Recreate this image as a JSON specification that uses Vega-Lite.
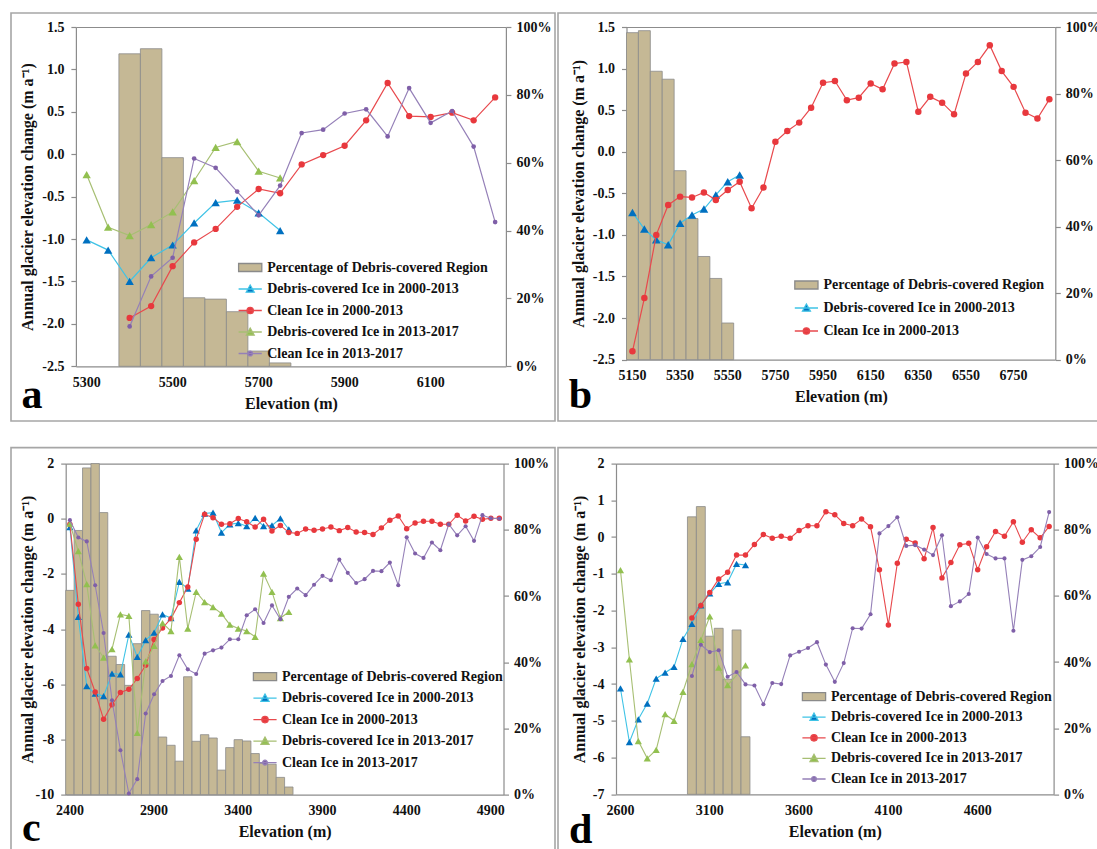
{
"$schema": "https://vega.github.io/schema/vega-lite/v6.json",
"padding": {"left": 10, "top": 12, "right": 0, "bottom": 0},
"background": "white",
"datasets": {
"A": [
{"e":5300,"d1":-1.01,"d2":-0.24},
{"e":5350,"d1":-1.13,"d2":-0.86},
{"e":5400,"d1":-1.5,"c1":-1.93,"d2":-0.96,"c2":-2.03,"p":0.921},
{"e":5450,"d1":-1.22,"c1":-1.79,"d2":-0.83,"c2":-1.44,"p":0.936},
{"e":5500,"d1":-1.07,"c1":-1.32,"d2":-0.68,"c2":-1.22,"p":0.615},
{"e":5550,"d1":-0.81,"c1":-1.04,"d2":-0.31,"c2":-0.05,"p":0.202},
{"e":5600,"d1":-0.57,"c1":-0.88,"d2":0.08,"c2":-0.16,"p":0.198},
{"e":5650,"d1":-0.54,"c1":-0.62,"d2":0.15,"c2":-0.44,"p":0.161},
{"e":5700,"d1":-0.69,"c1":-0.41,"d2":-0.2,"c2":-0.72,"p":0.045},
{"e":5750,"d1":-0.9,"c1":-0.46,"d2":-0.28,"c2":-0.37,"p":0.01},
{"e":5800,"c1":-0.12,"c2":0.25},
{"e":5850,"c1":-0.01,"c2":0.29},
{"e":5900,"c1":0.1,"c2":0.48},
{"e":5950,"c1":0.4,"c2":0.53},
{"e":6000,"c1":0.84,"c2":0.21},
{"e":6050,"c1":0.45,"c2":0.78},
{"e":6100,"c1":0.44,"c2":0.37},
{"e":6150,"c1":0.49,"c2":0.51},
{"e":6200,"c1":0.4,"c2":0.09},
{"e":6250,"c1":0.67,"c2":-0.8}
],
"B": [
{"e":5150,"d1":-0.73,"c1":-2.4,"p":0.983},
{"e":5200,"d1":-0.93,"c1":-1.76,"p":0.989},
{"e":5250,"d1":-1.06,"c1":-1.0,"p":0.867},
{"e":5300,"d1":-1.12,"c1":-0.64,"p":0.843},
{"e":5350,"d1":-0.86,"c1":-0.54,"p":0.568},
{"e":5400,"d1":-0.76,"c1":-0.55,"p":0.424},
{"e":5450,"d1":-0.69,"c1":-0.49,"p":0.31},
{"e":5500,"d1":-0.52,"c1":-0.58,"p":0.244},
{"e":5550,"d1":-0.36,"c1":-0.46,"p":0.11},
{"e":5600,"d1":-0.28,"c1":-0.36},
{"e":5650,"c1":-0.68},
{"e":5700,"c1":-0.43},
{"e":5750,"c1":0.12},
{"e":5800,"c1":0.25},
{"e":5850,"c1":0.35},
{"e":5900,"c1":0.53},
{"e":5950,"c1":0.83},
{"e":6000,"c1":0.85},
{"e":6050,"c1":0.62},
{"e":6100,"c1":0.65},
{"e":6150,"c1":0.82},
{"e":6200,"c1":0.75},
{"e":6250,"c1":1.06},
{"e":6300,"c1":1.08},
{"e":6350,"c1":0.48},
{"e":6400,"c1":0.66},
{"e":6450,"c1":0.59},
{"e":6500,"c1":0.45},
{"e":6550,"c1":0.94},
{"e":6600,"c1":1.08},
{"e":6650,"c1":1.28},
{"e":6700,"c1":0.97},
{"e":6750,"c1":0.78},
{"e":6800,"c1":0.47},
{"e":6850,"c1":0.4},
{"e":6900,"c1":0.63}
],
"C": [
{"e":2400,"d1":-0.3,"c1":-0.2,"d2":-0.18,"c2":-0.05,"p":0.617},
{"e":2450,"d1":-3.56,"c1":-3.1,"d2":-1.17,"c2":-0.68,"p":0.798},
{"e":2500,"d1":-6.07,"c1":-5.43,"d2":-2.37,"c2":-0.82,"p":0.987},
{"e":2550,"d1":-6.34,"c1":-6.28,"d2":-4.59,"c2":-2.41,"p":1.0},
{"e":2600,"d1":-6.43,"c1":-7.27,"d2":-5.03,"c2":-4.14,"p":0.852},
{"e":2650,"d1":-5.61,"c1":-6.74,"d2":-4.73,"c2":-6.58,"p":0.418},
{"e":2700,"d1":-5.64,"c1":-6.3,"d2":-3.47,"c2":-8.39,"p":0.393},
{"e":2750,"d1":-4.2,"c1":-6.18,"d2":-3.52,"c2":-9.96,"p":0.33},
{"e":2800,"d1":-5.01,"c1":-5.79,"d2":-7.76,"c2":-9.44,"p":0.456},
{"e":2850,"d1":-4.4,"c1":-5.31,"d2":-5.17,"c2":-7.06,"p":0.556},
{"e":2900,"d1":-4.13,"c1":-4.38,"d2":-4.61,"c2":-6.36,"p":0.545},
{"e":2950,"d1":-3.47,"c1":-3.96,"d2":-3.78,"c2":-5.88,"p":0.174},
{"e":3000,"d1":-3.6,"c1":-3.62,"d2":-4.07,"c2":-5.7,"p":0.149},
{"e":3050,"d1":-2.29,"c1":-3.04,"d2":-1.38,"c2":-4.95,"p":0.101},
{"e":3100,"d1":-2.53,"c1":-2.47,"d2":-3.98,"c2":-5.46,"p":0.356},
{"e":3150,"d1":-0.42,"c1":-0.74,"d2":-2.65,"c2":-5.63,"p":0.161},
{"e":3200,"d1":0.19,"c1":0.16,"d2":-3.02,"c2":-4.89,"p":0.181},
{"e":3250,"d1":0.22,"c1":0.04,"d2":-3.2,"c2":-4.77,"p":0.171},
{"e":3300,"d1":-0.5,"c1":-0.2,"d2":-3.44,"c2":-4.67,"p":0.074},
{"e":3350,"d1":-0.2,"c1":-0.18,"d2":-3.84,"c2":-4.37,"p":0.142},
{"e":3400,"d1":-0.16,"c1":0.01,"d2":-3.98,"c2":-4.37,"p":0.166},
{"e":3450,"d1":-0.27,"c1":-0.11,"d2":-4.07,"c2":-3.5,"p":0.162},
{"e":3500,"d1":0.03,"c1":-0.3,"d2":-4.28,"c2":-3.28,"p":0.124},
{"e":3550,"d1":-0.27,"c1":-0.02,"d2":-1.99,"c2":-3.78,"p":0.094},
{"e":3600,"d1":-0.24,"c1":-0.44,"d2":-2.65,"c2":-3.14,"p":0.092},
{"e":3650,"d1":0.01,"c1":-0.24,"d2":-3.6,"c2":-3.64,"p":0.052},
{"e":3700,"d1":-0.38,"c1":-0.5,"d2":-3.38,"c2":-2.83,"p":0.023},
{"e":3750,"c1":-0.53,"c2":-2.53},
{"e":3800,"c1":-0.37,"c2":-2.77},
{"e":3850,"c1":-0.42,"c2":-2.39},
{"e":3900,"c1":-0.37,"c2":-2.07},
{"e":3950,"c1":-0.3,"c2":-2.23},
{"e":4000,"c1":-0.43,"c2":-1.48},
{"e":4050,"c1":-0.32,"c2":-1.96},
{"e":4100,"c1":-0.48,"c2":-2.33},
{"e":4150,"c1":-0.5,"c2":-2.19},
{"e":4200,"c1":-0.57,"c2":-1.89},
{"e":4250,"c1":-0.33,"c2":-1.9},
{"e":4300,"c1":-0.05,"c2":-1.59},
{"e":4350,"c1":0.1,"c2":-2.41},
{"e":4400,"c1":-0.36,"c2":-0.67},
{"e":4450,"c1":-0.15,"c2":-1.26},
{"e":4500,"c1":-0.09,"c2":-1.42},
{"e":4550,"c1":-0.09,"c2":-0.86},
{"e":4600,"c1":-0.2,"c2":-1.14},
{"e":4650,"c1":-0.2,"c2":-0.2},
{"e":4700,"c1":0.13,"c2":-0.6},
{"e":4750,"c1":-0.08,"c2":-0.27},
{"e":4800,"c1":0.09,"c2":-0.8},
{"e":4850,"c1":-0.02,"c2":0.13},
{"e":4900,"c1":0.02,"c2":0.02},
{"e":4950,"c1":0.02,"c2":0.0}
],
"D": [
{"e":2600,"d1":-4.12,"d2":-0.9},
{"e":2650,"d1":-5.58,"d2":-3.33},
{"e":2700,"d1":-4.96,"d2":-5.55},
{"e":2750,"d1":-4.53,"d2":-6.02},
{"e":2800,"d1":-3.85,"d2":-5.79},
{"e":2850,"d1":-3.69,"d2":-4.82},
{"e":2900,"d1":-3.53,"d2":-5.0},
{"e":2950,"d1":-2.77,"d2":-4.21},
{"e":3000,"d1":-2.36,"c1":-2.2,"d2":-3.46,"c2":-3.78,"p":0.839},
{"e":3050,"d1":-1.86,"c1":-1.86,"d2":-2.8,"c2":-2.93,"p":0.87},
{"e":3100,"d1":-1.53,"c1":-1.51,"d2":-2.16,"c2":-3.13,"p":0.478},
{"e":3150,"d1":-1.27,"c1":-1.14,"d2":-3.55,"c2":-3.08,"p":0.502},
{"e":3200,"d1":-1.23,"c1":-0.96,"d2":-4.03,"c2":-3.8,"p":0.348},
{"e":3250,"d1":-0.73,"c1":-0.49,"c2":-3.67,"p":0.497},
{"e":3300,"d1":-0.76,"c1":-0.49,"d2":-3.49,"c2":-4.01,"p":0.174},
{"e":3350,"c1":-0.2,"c2":-4.04},
{"e":3400,"c1":0.07,"c2":-4.55},
{"e":3450,"c1":-0.03,"c2":-3.97},
{"e":3500,"c1":0.02,"c2":-4.0},
{"e":3550,"c1":-0.03,"c2":-3.22},
{"e":3600,"c1":0.18,"c2":-3.12},
{"e":3650,"c1":0.31,"c2":-3.02},
{"e":3700,"c1":0.31,"c2":-2.86},
{"e":3750,"c1":0.69,"c2":-3.47},
{"e":3800,"c1":0.61,"c2":-3.94},
{"e":3850,"c1":0.37,"c2":-3.43},
{"e":3900,"c1":0.31,"c2":-2.48},
{"e":3950,"c1":0.49,"c2":-2.49},
{"e":4000,"c1":0.28,"c2":-2.1},
{"e":4050,"c1":-0.89,"c2":0.1},
{"e":4100,"c1":-2.39,"c2":0.3},
{"e":4150,"c1":-0.71,"c2":0.54},
{"e":4200,"c1":-0.06,"c2":-0.24},
{"e":4250,"c1":-0.16,"c2":-0.22},
{"e":4300,"c1":-0.59,"c2":-0.34},
{"e":4350,"c1":0.26,"c2":-0.49},
{"e":4400,"c1":-1.11,"c2":0.05},
{"e":4450,"c1":-0.69,"c2":-1.88},
{"e":4500,"c1":-0.21,"c2":-1.75},
{"e":4550,"c1":-0.17,"c2":-1.55},
{"e":4600,"c1":-0.89,"c2":-0.01},
{"e":4650,"c1":-0.26,"c2":-0.46},
{"e":4700,"c1":0.15,"c2":-0.58},
{"e":4750,"c1":0.02,"c2":-0.58},
{"e":4800,"c1":0.42,"c2":-2.55},
{"e":4850,"c1":-0.14,"c2":-0.62},
{"e":4900,"c1":0.2,"c2":-0.52},
{"e":4950,"c1":-0.02,"c2":-0.27},
{"e":5000,"c1":0.29,"c2":0.68}
]
},
"columns": 2,
"spacing": {"row": 26.6, "column": 3},
"bounds": "flush",
"resolve": {"scale": {"fill": "independent", "stroke": "independent", "shape": "independent"}, "legend": {"fill": "independent", "stroke": "independent", "shape": "independent"}},
"concat": [
{
"width": 544, "height": 408,
"data": {"name": "A"},
"title": {"text": "a", "orient": "bottom", "anchor": "start", "frame": "group", "offset": -13.5, "dx": 10.5, "baseline": "alphabetic", "fontSize": 42, "font": "Liberation Serif", "fontWeight": "bold", "color": "#000"},
"resolve": {"scale": {"y": "independent"}, "axis": {"x": "independent"}},
"layer": [
{"transform": [{"filter": "isValid(datum.p)"}],
 "mark": {"type": "bar", "fill": "#c5b895", "stroke": "#8a8a8a", "strokeWidth": 0.8},
 "encoding": {
  "x": {"field": "e", "type": "ordinal", "scale": {"range": [64.9, 494.9], "paddingInner": 0, "paddingOuter": 0}, "axis": {"orient": "bottom", "offset": -54.7, "values": [5300,5500,5700,5900,6100], "labelAngle": 0, "ticks": false, "tickSize": 0, "labelPadding": 9, "title": "Elevation (m)", "titlePadding": 6}},
  "y": {"field": "p", "type": "quantitative", "scale": {"domain": [0,1], "range": [353.3,14], "nice": false}, "axis": {"orient": "right", "offset": -49.1, "values": [0,0.2,0.4,0.6,0.8,1], "format": ".0%", "tickSize": 5, "labelPadding": 5, "title": null}}
 }},
{"transform": [{"filter": "isValid(datum.d1)"}],
 "mark": {"type": "line", "stroke": "#3fc3e6", "strokeWidth": 1.2},
 "encoding": {
  "x": {"field": "e", "type": "ordinal", "axis": {"orient": "top", "offset": -14, "labels": false, "ticks": false, "title": null}},
  "y": {"field": "d1", "type": "quantitative", "scale": {"domain": [-2.5,1.5], "range": [353.3,14], "nice": false, "zero": false}, "axis": {"orient": "left", "offset": -64.9, "values": [-2.5,-2,-1.5,-1,-0.5,0,0.5,1,1.5], "labelExpr": "replace(format(datum.value,'.1f'),'\u2212','-')", "tickSize": 5, "labelPadding": 7, "title": "Annual glacier elevation change (m a\u207b\u00b9)", "titlePadding": 6}}
 }},
{"transform": [{"filter": "isValid(datum.d1)"}],
 "mark": {"type": "point", "shape": "triangle-up", "filled": true, "opacity": 1, "size": 70, "fill": "#0070c0", "strokeWidth": 0},
 "encoding": {"x": {"field": "e", "type": "ordinal", "axis": null}, "y": {"field": "d1", "type": "quantitative", "scale": {"domain": [-2.5,1.5], "range": [353.3,14], "nice": false, "zero": false}, "axis": null}}},
{"transform": [{"filter": "isValid(datum.c1)"}],
 "mark": {"type": "line", "stroke": "#e8494d", "strokeWidth": 1.2},
 "encoding": {"x": {"field": "e", "type": "ordinal", "axis": null}, "y": {"field": "c1", "type": "quantitative", "scale": {"domain": [-2.5,1.5], "range": [353.3,14], "nice": false, "zero": false}, "axis": null}}},
{"transform": [{"filter": "isValid(datum.c1)"}],
 "mark": {"type": "point", "shape": "circle", "filled": true, "opacity": 1, "size": 40, "fill": "#e8383d", "strokeWidth": 0},
 "encoding": {"x": {"field": "e", "type": "ordinal", "axis": null}, "y": {"field": "c1", "type": "quantitative", "scale": {"domain": [-2.5,1.5], "range": [353.3,14], "nice": false, "zero": false}, "axis": null}}},
{"transform": [{"filter": "isValid(datum.d2)"}],
 "mark": {"type": "line", "stroke": "#a7bf73", "strokeWidth": 1.2},
 "encoding": {"x": {"field": "e", "type": "ordinal", "axis": null}, "y": {"field": "d2", "type": "quantitative", "scale": {"domain": [-2.5,1.5], "range": [353.3,14], "nice": false, "zero": false}, "axis": null}}},
{"transform": [{"filter": "isValid(datum.d2)"}],
 "mark": {"type": "point", "shape": "triangle-up", "filled": true, "opacity": 1, "size": 70, "fill": "#92c050", "strokeWidth": 0},
 "encoding": {"x": {"field": "e", "type": "ordinal", "axis": null}, "y": {"field": "d2", "type": "quantitative", "scale": {"domain": [-2.5,1.5], "range": [353.3,14], "nice": false, "zero": false}, "axis": null}}},
{"transform": [{"filter": "isValid(datum.c2)"}],
 "mark": {"type": "line", "stroke": "#9580b8", "strokeWidth": 1.2},
 "encoding": {"x": {"field": "e", "type": "ordinal", "axis": null}, "y": {"field": "c2", "type": "quantitative", "scale": {"domain": [-2.5,1.5], "range": [353.3,14], "nice": false, "zero": false}, "axis": null}}},
{"transform": [{"filter": "isValid(datum.c2)"}],
 "mark": {"type": "point", "shape": "circle", "filled": true, "opacity": 1, "size": 22, "fill": "#7f5fa8", "strokeWidth": 0},
 "encoding": {"x": {"field": "e", "type": "ordinal", "axis": null}, "y": {"field": "c2", "type": "quantitative", "scale": {"domain": [-2.5,1.5], "range": [353.3,14], "nice": false, "zero": false}, "axis": null}}},
{"data": {"values": []},
 "mark": {"type": "point", "filled": true, "opacity": 1},
 "encoding": {
  "fill": {"field": "s", "type": "nominal", "scale": {"domain": ["bar","d1","c1","d2","c2"], "range": ["#c5b895","#0070c0","#e8383d","#92c050","#7f5fa8"]}, "legend": {"orient": "none", "legendX": 230.2, "legendY": 245.5, "title": null, "rowPadding": 5.5, "labelFontWeight": "bold", "symbolFillColor": "#000", "symbolStrokeColor": "#000", "labelExpr": "datum.label=='bar'?'Percentage of Debris-covered Region':datum.label=='d1'?'Debris-covered Ice in 2000-2013':datum.label=='c1'?'Clean Ice in 2000-2013':datum.label=='d2'?'Debris-covered Ice in 2013-2017':'Clean Ice in 2013-2017'"}},
  "stroke": {"field": "s", "type": "nominal", "scale": {"domain": ["bar","d1","c1","d2","c2"], "range": ["#8a8a8a","#3fc3e6","#e8494d","#a7bf73","#9580b8"]}, "legend": {"orient": "none", "legendX": 230.2, "legendY": 245.5, "title": null, "rowPadding": 5.5, "labelFontWeight": "bold", "symbolFillColor": "#000", "symbolStrokeColor": "#000", "labelExpr": "datum.label=='bar'?'Percentage of Debris-covered Region':datum.label=='d1'?'Debris-covered Ice in 2000-2013':datum.label=='c1'?'Clean Ice in 2000-2013':datum.label=='d2'?'Debris-covered Ice in 2013-2017':'Clean Ice in 2013-2017'"}},
  "shape": {"field": "s", "type": "nominal", "scale": {"domain": ["bar","d1","c1","d2","c2"], "range": ["M-1.45,-0.5H1.45V0.5H-1.45Z","M-1.45,0H1.45M-0.5,0.4L0,-0.5L0.5,0.4Z","M-1.45,0H1.45M-0.4,0A0.4,0.4,0,1,0,0.4,0A0.4,0.4,0,1,0,-0.4,0Z","M-1.45,0H1.45M-0.5,0.4L0,-0.5L0.5,0.4Z","M-1.45,0H1.45M-0.3,0A0.3,0.3,0,1,0,0.3,0A0.3,0.3,0,1,0,-0.3,0Z"]}, "legend": {"orient": "none", "legendX": 230.2, "legendY": 245.5, "title": null, "rowPadding": 5.5, "labelFontWeight": "bold", "symbolFillColor": "#000", "symbolStrokeColor": "#000", "labelExpr": "datum.label=='bar'?'Percentage of Debris-covered Region':datum.label=='d1'?'Debris-covered Ice in 2000-2013':datum.label=='c1'?'Clean Ice in 2000-2013':datum.label=='d2'?'Debris-covered Ice in 2013-2017':'Clean Ice in 2013-2017'"}}
 }}
]
},
{
"width": 541, "height": 408,
"data": {"name": "B"},
"title": {"text": "b", "orient": "bottom", "anchor": "start", "frame": "group", "offset": -13.5, "dx": 10.7, "baseline": "alphabetic", "fontSize": 42, "font": "Liberation Serif", "fontWeight": "bold", "color": "#000"},
"resolve": {"scale": {"y": "independent"}, "axis": {"x": "independent"}},
"layer": [
{"transform": [{"filter": "isValid(datum.p)"}],
 "mark": {"type": "bar", "fill": "#c5b895", "stroke": "#8a8a8a", "strokeWidth": 0.8},
 "encoding": {
  "x": {"field": "e", "type": "ordinal", "scale": {"range": [68.5, 497.3], "paddingInner": 0, "paddingOuter": 0}, "axis": {"orient": "bottom", "offset": -61.4, "values": [5150,5350,5550,5750,5950,6150,6350,6550,6750], "labelAngle": 0, "ticks": false, "tickSize": 0, "labelPadding": 9, "title": "Elevation (m)", "titlePadding": 6}},
  "y": {"field": "p", "type": "quantitative", "scale": {"domain": [0,1], "range": [346.6,14], "nice": false}, "axis": {"orient": "right", "offset": -43.7, "values": [0,0.2,0.4,0.6,0.8,1], "format": ".0%", "tickSize": 5, "labelPadding": 5, "title": null}}
 }},
{"transform": [{"filter": "isValid(datum.d1)"}],
 "mark": {"type": "line", "stroke": "#3fc3e6", "strokeWidth": 1.2},
 "encoding": {
  "x": {"field": "e", "type": "ordinal", "axis": {"orient": "top", "offset": -14, "labels": false, "ticks": false, "title": null}},
  "y": {"field": "d1", "type": "quantitative", "scale": {"domain": [-2.5,1.5], "range": [346.6,14], "nice": false, "zero": false}, "axis": {"orient": "left", "offset": -68.5, "values": [-2.5,-2,-1.5,-1,-0.5,0,0.5,1,1.5], "labelExpr": "replace(format(datum.value,'.1f'),'\u2212','-')", "tickSize": 5, "labelPadding": 7, "title": "Annual glacier elevation change (m a\u207b\u00b9)", "titlePadding": 6}}
 }},
{"transform": [{"filter": "isValid(datum.d1)"}],
 "mark": {"type": "point", "shape": "triangle-up", "filled": true, "opacity": 1, "size": 75, "fill": "#0070c0", "strokeWidth": 0},
 "encoding": {"x": {"field": "e", "type": "ordinal", "axis": null}, "y": {"field": "d1", "type": "quantitative", "scale": {"domain": [-2.5,1.5], "range": [346.6,14], "nice": false, "zero": false}, "axis": null}}},
{"transform": [{"filter": "isValid(datum.c1)"}],
 "mark": {"type": "line", "stroke": "#e8494d", "strokeWidth": 1.2},
 "encoding": {"x": {"field": "e", "type": "ordinal", "axis": null}, "y": {"field": "c1", "type": "quantitative", "scale": {"domain": [-2.5,1.5], "range": [346.6,14], "nice": false, "zero": false}, "axis": null}}},
{"transform": [{"filter": "isValid(datum.c1)"}],
 "mark": {"type": "point", "shape": "circle", "filled": true, "opacity": 1, "size": 42, "fill": "#e8383d", "strokeWidth": 0},
 "encoding": {"x": {"field": "e", "type": "ordinal", "axis": null}, "y": {"field": "c1", "type": "quantitative", "scale": {"domain": [-2.5,1.5], "range": [346.6,14], "nice": false, "zero": false}, "axis": null}}},
{"data": {"values": []},
 "mark": {"type": "point", "filled": true, "opacity": 1},
 "encoding": {
  "fill": {"field": "s", "type": "nominal", "scale": {"domain": ["bar","d1","c1"], "range": ["#c5b895","#0070c0","#e8383d"]}, "legend": {"orient": "none", "legendX": 239.4, "legendY": 263, "title": null, "rowPadding": 7, "labelFontWeight": "bold", "symbolFillColor": "#000", "symbolStrokeColor": "#000", "labelExpr": "datum.label=='bar'?'Percentage of Debris-covered Region':datum.label=='d1'?'Debris-covered Ice in 2000-2013':'Clean Ice in 2000-2013'"}},
  "stroke": {"field": "s", "type": "nominal", "scale": {"domain": ["bar","d1","c1"], "range": ["#8a8a8a","#3fc3e6","#e8494d"]}, "legend": {"orient": "none", "legendX": 239.4, "legendY": 263, "title": null, "rowPadding": 7, "labelFontWeight": "bold", "symbolFillColor": "#000", "symbolStrokeColor": "#000", "labelExpr": "datum.label=='bar'?'Percentage of Debris-covered Region':datum.label=='d1'?'Debris-covered Ice in 2000-2013':'Clean Ice in 2000-2013'"}},
  "shape": {"field": "s", "type": "nominal", "scale": {"domain": ["bar","d1","c1"], "range": ["M-1.45,-0.5H1.45V0.5H-1.45Z","M-1.45,0H1.45M-0.5,0.4L0,-0.5L0.5,0.4Z","M-1.45,0H1.45M-0.4,0A0.4,0.4,0,1,0,0.4,0A0.4,0.4,0,1,0,-0.4,0Z"]}, "legend": {"orient": "none", "legendX": 239.4, "legendY": 263, "title": null, "rowPadding": 7, "labelFontWeight": "bold", "symbolFillColor": "#000", "symbolStrokeColor": "#000", "labelExpr": "datum.label=='bar'?'Percentage of Debris-covered Region':datum.label=='d1'?'Debris-covered Ice in 2000-2013':'Clean Ice in 2000-2013'"}}
 }}
]
},
{
"width": 544, "height": 404,
"data": {"name": "C"},
"title": {"text": "c", "orient": "bottom", "anchor": "start", "frame": "group", "offset": -10.4, "dx": 11, "baseline": "alphabetic", "fontSize": 42, "font": "Liberation Serif", "fontWeight": "bold", "color": "#000"},
"resolve": {"scale": {"y": "independent"}, "axis": {"x": "independent"}},
"layer": [
{"transform": [{"filter": "isValid(datum.p)"}],
 "mark": {"type": "bar", "fill": "#c5b895", "stroke": "#8a8a8a", "strokeWidth": 0.8},
 "encoding": {
  "x": {"field": "e", "type": "ordinal", "scale": {"range": [54.7, 492.5], "paddingInner": 0, "paddingOuter": 0}, "axis": {"orient": "bottom", "offset": -57, "values": [2400,2900,3400,3900,4400,4900], "labelAngle": 0, "ticks": false, "tickSize": 0, "labelPadding": 9, "title": "Elevation (m)", "titlePadding": 6}},
  "y": {"field": "p", "type": "quantitative", "scale": {"domain": [0,1], "range": [347,16], "nice": false}, "axis": {"orient": "right", "offset": -51.5, "values": [0,0.2,0.4,0.6,0.8,1], "format": ".0%", "tickSize": 5, "labelPadding": 5, "title": null}}
 }},
{"transform": [{"filter": "isValid(datum.d1)"}],
 "mark": {"type": "line", "stroke": "#3fc3e6", "strokeWidth": 1.1},
 "encoding": {
  "x": {"field": "e", "type": "ordinal", "axis": {"orient": "top", "offset": -16, "labels": false, "ticks": false, "title": null}},
  "y": {"field": "d1", "type": "quantitative", "scale": {"domain": [-10,2], "range": [347,16], "nice": false, "zero": false}, "axis": {"orient": "left", "offset": -54.7, "values": [-10,-8,-6,-4,-2,0,2], "labelExpr": "replace(format(datum.value,'d'),'\u2212','-')", "tickSize": 5, "labelPadding": 7, "title": "Annual glacier elevation change (m a\u207b\u00b9)", "titlePadding": 0}}
 }},
{"transform": [{"filter": "isValid(datum.d1)"}],
 "mark": {"type": "point", "shape": "triangle-up", "filled": true, "opacity": 1, "size": 52, "fill": "#0070c0", "strokeWidth": 0},
 "encoding": {"x": {"field": "e", "type": "ordinal", "axis": null}, "y": {"field": "d1", "type": "quantitative", "scale": {"domain": [-10,2], "range": [347,16], "nice": false, "zero": false}, "axis": null}}},
{"transform": [{"filter": "isValid(datum.c1)"}],
 "mark": {"type": "line", "stroke": "#e8494d", "strokeWidth": 1.1},
 "encoding": {"x": {"field": "e", "type": "ordinal", "axis": null}, "y": {"field": "c1", "type": "quantitative", "scale": {"domain": [-10,2], "range": [347,16], "nice": false, "zero": false}, "axis": null}}},
{"transform": [{"filter": "isValid(datum.c1)"}],
 "mark": {"type": "point", "shape": "circle", "filled": true, "opacity": 1, "size": 30, "fill": "#e8383d", "strokeWidth": 0},
 "encoding": {"x": {"field": "e", "type": "ordinal", "axis": null}, "y": {"field": "c1", "type": "quantitative", "scale": {"domain": [-10,2], "range": [347,16], "nice": false, "zero": false}, "axis": null}}},
{"transform": [{"filter": "isValid(datum.d2)"}],
 "mark": {"type": "line", "stroke": "#a7bf73", "strokeWidth": 1.1},
 "encoding": {"x": {"field": "e", "type": "ordinal", "axis": null}, "y": {"field": "d2", "type": "quantitative", "scale": {"domain": [-10,2], "range": [347,16], "nice": false, "zero": false}, "axis": null}}},
{"transform": [{"filter": "isValid(datum.d2)"}],
 "mark": {"type": "point", "shape": "triangle-up", "filled": true, "opacity": 1, "size": 52, "fill": "#92c050", "strokeWidth": 0},
 "encoding": {"x": {"field": "e", "type": "ordinal", "axis": null}, "y": {"field": "d2", "type": "quantitative", "scale": {"domain": [-10,2], "range": [347,16], "nice": false, "zero": false}, "axis": null}}},
{"transform": [{"filter": "isValid(datum.c2)"}],
 "mark": {"type": "line", "stroke": "#9580b8", "strokeWidth": 1.1},
 "encoding": {"x": {"field": "e", "type": "ordinal", "axis": null}, "y": {"field": "c2", "type": "quantitative", "scale": {"domain": [-10,2], "range": [347,16], "nice": false, "zero": false}, "axis": null}}},
{"transform": [{"filter": "isValid(datum.c2)"}],
 "mark": {"type": "point", "shape": "circle", "filled": true, "opacity": 1, "size": 17, "fill": "#7f5fa8", "strokeWidth": 0},
 "encoding": {"x": {"field": "e", "type": "ordinal", "axis": null}, "y": {"field": "c2", "type": "quantitative", "scale": {"domain": [-10,2], "range": [347,16], "nice": false, "zero": false}, "axis": null}}},
{"data": {"values": []},
 "mark": {"type": "point", "filled": true, "opacity": 1},
 "encoding": {
  "fill": {"field": "s", "type": "nominal", "scale": {"domain": ["bar","d1","c1","d2","c2"], "range": ["#c5b895","#0070c0","#e8383d","#92c050","#7f5fa8"]}, "legend": {"orient": "none", "legendX": 245, "legendY": 220, "title": null, "rowPadding": 5.5, "labelFontWeight": "bold", "symbolFillColor": "#000", "symbolStrokeColor": "#000", "labelExpr": "datum.label=='bar'?'Percentage of Debris-covered Region':datum.label=='d1'?'Debris-covered Ice in 2000-2013':datum.label=='c1'?'Clean Ice in 2000-2013':datum.label=='d2'?'Debris-covered Ice in 2013-2017':'Clean Ice in 2013-2017'"}},
  "stroke": {"field": "s", "type": "nominal", "scale": {"domain": ["bar","d1","c1","d2","c2"], "range": ["#8a8a8a","#3fc3e6","#e8494d","#a7bf73","#9580b8"]}, "legend": {"orient": "none", "legendX": 245, "legendY": 220, "title": null, "rowPadding": 5.5, "labelFontWeight": "bold", "symbolFillColor": "#000", "symbolStrokeColor": "#000", "labelExpr": "datum.label=='bar'?'Percentage of Debris-covered Region':datum.label=='d1'?'Debris-covered Ice in 2000-2013':datum.label=='c1'?'Clean Ice in 2000-2013':datum.label=='d2'?'Debris-covered Ice in 2013-2017':'Clean Ice in 2013-2017'"}},
  "shape": {"field": "s", "type": "nominal", "scale": {"domain": ["bar","d1","c1","d2","c2"], "range": ["M-1.45,-0.5H1.45V0.5H-1.45Z","M-1.45,0H1.45M-0.5,0.4L0,-0.5L0.5,0.4Z","M-1.45,0H1.45M-0.4,0A0.4,0.4,0,1,0,0.4,0A0.4,0.4,0,1,0,-0.4,0Z","M-1.45,0H1.45M-0.5,0.4L0,-0.5L0.5,0.4Z","M-1.45,0H1.45M-0.3,0A0.3,0.3,0,1,0,0.3,0A0.3,0.3,0,1,0,-0.3,0Z"]}, "legend": {"orient": "none", "legendX": 245, "legendY": 220, "title": null, "rowPadding": 5.5, "labelFontWeight": "bold", "symbolFillColor": "#000", "symbolStrokeColor": "#000", "labelExpr": "datum.label=='bar'?'Percentage of Debris-covered Region':datum.label=='d1'?'Debris-covered Ice in 2000-2013':datum.label=='c1'?'Clean Ice in 2000-2013':datum.label=='d2'?'Debris-covered Ice in 2013-2017':'Clean Ice in 2013-2017'"}}
 }}
]
},
{
"width": 541, "height": 404,
"data": {"name": "D"},
"title": {"text": "d", "orient": "bottom", "anchor": "start", "frame": "group", "offset": -8.8, "dx": 11, "baseline": "alphabetic", "fontSize": 42, "font": "Liberation Serif", "fontWeight": "bold", "color": "#000"},
"resolve": {"scale": {"y": "independent"}, "axis": {"x": "independent"}},
"layer": [
{"transform": [{"filter": "isValid(datum.p)"}],
 "mark": {"type": "bar", "fill": "#c5b895", "stroke": "#8a8a8a", "strokeWidth": 0.8},
 "encoding": {
  "x": {"field": "e", "type": "ordinal", "scale": {"range": [58, 495.6], "paddingInner": 0, "paddingOuter": 0}, "axis": {"orient": "bottom", "offset": -57.3, "values": [2600,3100,3600,4100,4600], "labelAngle": 0, "ticks": false, "tickSize": 0, "labelPadding": 9, "title": "Elevation (m)", "titlePadding": 6}},
  "y": {"field": "p", "type": "quantitative", "scale": {"domain": [0,1], "range": [346.7,16], "nice": false}, "axis": {"orient": "right", "offset": -45.4, "values": [0,0.2,0.4,0.6,0.8,1], "format": ".0%", "tickSize": 5, "labelPadding": 5, "title": null}}
 }},
{"transform": [{"filter": "isValid(datum.d1)"}],
 "mark": {"type": "line", "stroke": "#3fc3e6", "strokeWidth": 1.1},
 "encoding": {
  "x": {"field": "e", "type": "ordinal", "axis": {"orient": "top", "offset": -16, "labels": false, "ticks": false, "title": null}},
  "y": {"field": "d1", "type": "quantitative", "scale": {"domain": [-7,2], "range": [346.7,16], "nice": false, "zero": false}, "axis": {"orient": "left", "offset": -58, "values": [-7,-6,-5,-4,-3,-2,-1,0,1,2], "labelExpr": "replace(format(datum.value,'d'),'\u2212','-')", "tickSize": 5, "labelPadding": 7, "title": "Annual glacier elevation change (m a\u207b\u00b9)", "titlePadding": 5}}
 }},
{"transform": [{"filter": "isValid(datum.d1)"}],
 "mark": {"type": "point", "shape": "triangle-up", "filled": true, "opacity": 1, "size": 52, "fill": "#0070c0", "strokeWidth": 0},
 "encoding": {"x": {"field": "e", "type": "ordinal", "axis": null}, "y": {"field": "d1", "type": "quantitative", "scale": {"domain": [-7,2], "range": [346.7,16], "nice": false, "zero": false}, "axis": null}}},
{"transform": [{"filter": "isValid(datum.c1)"}],
 "mark": {"type": "line", "stroke": "#e8494d", "strokeWidth": 1.1},
 "encoding": {"x": {"field": "e", "type": "ordinal", "axis": null}, "y": {"field": "c1", "type": "quantitative", "scale": {"domain": [-7,2], "range": [346.7,16], "nice": false, "zero": false}, "axis": null}}},
{"transform": [{"filter": "isValid(datum.c1)"}],
 "mark": {"type": "point", "shape": "circle", "filled": true, "opacity": 1, "size": 30, "fill": "#e8383d", "strokeWidth": 0},
 "encoding": {"x": {"field": "e", "type": "ordinal", "axis": null}, "y": {"field": "c1", "type": "quantitative", "scale": {"domain": [-7,2], "range": [346.7,16], "nice": false, "zero": false}, "axis": null}}},
{"transform": [{"filter": "isValid(datum.d2)"}],
 "mark": {"type": "line", "stroke": "#a7bf73", "strokeWidth": 1.1},
 "encoding": {"x": {"field": "e", "type": "ordinal", "axis": null}, "y": {"field": "d2", "type": "quantitative", "scale": {"domain": [-7,2], "range": [346.7,16], "nice": false, "zero": false}, "axis": null}}},
{"transform": [{"filter": "isValid(datum.d2)"}],
 "mark": {"type": "point", "shape": "triangle-up", "filled": true, "opacity": 1, "size": 52, "fill": "#92c050", "strokeWidth": 0},
 "encoding": {"x": {"field": "e", "type": "ordinal", "axis": null}, "y": {"field": "d2", "type": "quantitative", "scale": {"domain": [-7,2], "range": [346.7,16], "nice": false, "zero": false}, "axis": null}}},
{"transform": [{"filter": "isValid(datum.c2)"}],
 "mark": {"type": "line", "stroke": "#9580b8", "strokeWidth": 1.1},
 "encoding": {"x": {"field": "e", "type": "ordinal", "axis": null}, "y": {"field": "c2", "type": "quantitative", "scale": {"domain": [-7,2], "range": [346.7,16], "nice": false, "zero": false}, "axis": null}}},
{"transform": [{"filter": "isValid(datum.c2)"}],
 "mark": {"type": "point", "shape": "circle", "filled": true, "opacity": 1, "size": 17, "fill": "#7f5fa8", "strokeWidth": 0},
 "encoding": {"x": {"field": "e", "type": "ordinal", "axis": null}, "y": {"field": "c2", "type": "quantitative", "scale": {"domain": [-7,2], "range": [346.7,16], "nice": false, "zero": false}, "axis": null}}},
{"data": {"values": []},
 "mark": {"type": "point", "filled": true, "opacity": 1},
 "encoding": {
  "fill": {"field": "s", "type": "nominal", "scale": {"domain": ["bar","d1","c1","d2","c2"], "range": ["#c5b895","#0070c0","#e8383d","#92c050","#7f5fa8"]}, "legend": {"orient": "none", "legendX": 247, "legendY": 240, "title": null, "rowPadding": 4.6, "labelFontWeight": "bold", "symbolFillColor": "#000", "symbolStrokeColor": "#000", "labelExpr": "datum.label=='bar'?'Percentage of Debris-covered Region':datum.label=='d1'?'Debris-covered Ice in 2000-2013':datum.label=='c1'?'Clean Ice in 2000-2013':datum.label=='d2'?'Debris-covered Ice in 2013-2017':'Clean Ice in 2013-2017'"}},
  "stroke": {"field": "s", "type": "nominal", "scale": {"domain": ["bar","d1","c1","d2","c2"], "range": ["#8a8a8a","#3fc3e6","#e8494d","#a7bf73","#9580b8"]}, "legend": {"orient": "none", "legendX": 247, "legendY": 240, "title": null, "rowPadding": 4.6, "labelFontWeight": "bold", "symbolFillColor": "#000", "symbolStrokeColor": "#000", "labelExpr": "datum.label=='bar'?'Percentage of Debris-covered Region':datum.label=='d1'?'Debris-covered Ice in 2000-2013':datum.label=='c1'?'Clean Ice in 2000-2013':datum.label=='d2'?'Debris-covered Ice in 2013-2017':'Clean Ice in 2013-2017'"}},
  "shape": {"field": "s", "type": "nominal", "scale": {"domain": ["bar","d1","c1","d2","c2"], "range": ["M-1.45,-0.5H1.45V0.5H-1.45Z","M-1.45,0H1.45M-0.5,0.4L0,-0.5L0.5,0.4Z","M-1.45,0H1.45M-0.4,0A0.4,0.4,0,1,0,0.4,0A0.4,0.4,0,1,0,-0.4,0Z","M-1.45,0H1.45M-0.5,0.4L0,-0.5L0.5,0.4Z","M-1.45,0H1.45M-0.3,0A0.3,0.3,0,1,0,0.3,0A0.3,0.3,0,1,0,-0.3,0Z"]}, "legend": {"orient": "none", "legendX": 247, "legendY": 240, "title": null, "rowPadding": 4.6, "labelFontWeight": "bold", "symbolFillColor": "#000", "symbolStrokeColor": "#000", "labelExpr": "datum.label=='bar'?'Percentage of Debris-covered Region':datum.label=='d1'?'Debris-covered Ice in 2000-2013':datum.label=='c1'?'Clean Ice in 2000-2013':datum.label=='d2'?'Debris-covered Ice in 2013-2017':'Clean Ice in 2013-2017'"}}
 }}
]
}
],
"config": {
 "font": "Liberation Serif",
 "view": {"stroke": "#a6a6a6", "strokeWidth": 1.6},
 "axis": {"grid": false, "labelFont": "Liberation Serif", "labelFontWeight": "bold", "labelFontSize": 14, "labelColor": "#111", "titleFont": "Liberation Serif", "titleFontWeight": "bold", "titleFontSize": 16, "titleColor": "#111", "domainColor": "#8c8c8c", "domainWidth": 1.2, "tickColor": "#8c8c8c", "tickWidth": 1.2, "minExtent": 0, "maxExtent": 500},
 "legend": {"labelFont": "Liberation Serif", "labelFontWeight": "bold", "labelFontSize": 14, "labelColor": "#111", "labelLimit": 400, "labelOffset": 8, "symbolSize": 256, "symbolStrokeWidth": 1.3, "padding": 0}
}
}
